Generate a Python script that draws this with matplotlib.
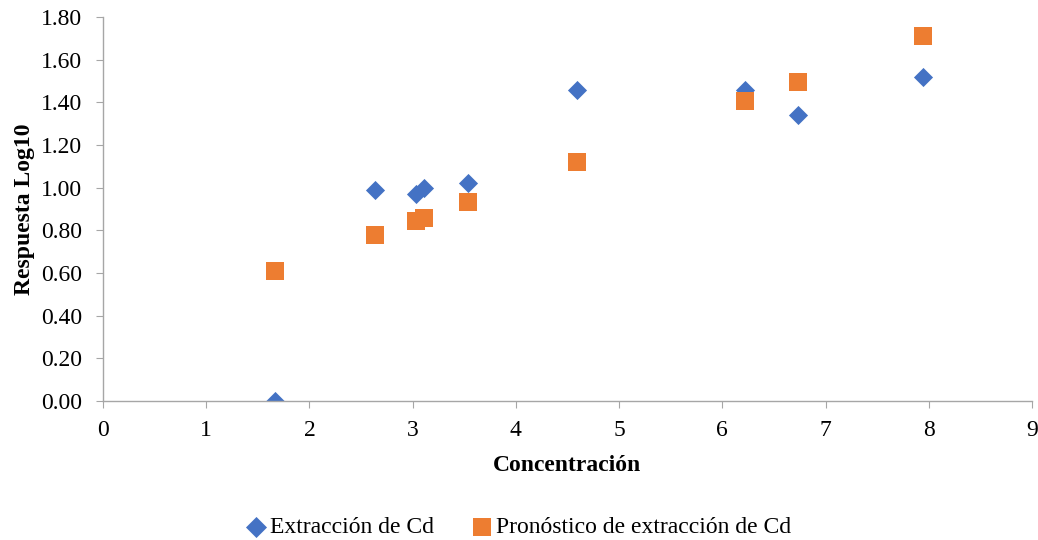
import matplotlib.pyplot as plt

plt.rcParams["font.family"] = ["Liberation Serif", "DejaVu Serif"]

concentracion = [1.67, 2.64, 3.03, 3.11, 3.54, 4.59, 6.22, 6.73, 7.94]
extraccion_cd = [0.00, 0.99, 0.97, 1.00, 1.02, 1.46, 1.46, 1.34, 1.52]
pronostico_cd = [0.61, 0.78, 0.845, 0.86, 0.935, 1.12, 1.405, 1.495, 1.71]

y_ticks = [0.0, 0.2, 0.4, 0.6, 0.8, 1.0, 1.2, 1.4, 1.6, 1.8]
x_ticks = list(range(0, 10))

BLUE = "#4472C4"
ORANGE = "#ED7D31"
GRAY = "#A6A6A6"


def main():
    fig = plt.figure(figsize=(10.38, 5.40), dpi=100)
    ax = fig.add_axes([0.0992, 0.2574, 0.895, 0.7111])

    ax.scatter(concentracion, extraccion_cd, marker="D", s=95, color=BLUE,
               label="Extracción de Cd", zorder=2, linewidths=0)
    ax.scatter(concentracion, pronostico_cd, marker="s", s=150, color=ORANGE,
               label="Pronóstico de extracción de Cd", zorder=3, linewidths=0)

    ax.set_xlim(0, 9)
    ax.set_ylim(0, 1.8)
    ax.set_xticks(x_ticks)
    ax.set_yticks(y_ticks)
    ax.set_yticklabels([f"{v:.2f}" for v in y_ticks])

    for side in ["top", "right"]:
        ax.spines[side].set_visible(False)
    for side in ["left", "bottom"]:
        ax.spines[side].set_color(GRAY)
        ax.spines[side].set_linewidth(1.0)
    ax.tick_params(axis="both", colors=GRAY, labelcolor="black",
                   labelsize=17, length=5, direction="out")
    ax.tick_params(axis="x", pad=9)
    ax.tick_params(axis="y", pad=10)

    ax.set_xlabel("Concentración", fontsize=17, fontweight="bold", labelpad=10)
    ax.set_ylabel("Respuesta Log10", fontsize=17, fontweight="bold", labelpad=4)

    fig.legend(loc="lower center", ncol=2, frameon=False, fontsize=17,
               bbox_to_anchor=(0.493, -0.036), handletextpad=-0.4,
               columnspacing=1.0, markerscale=1.1)

    fig.savefig("out.png", dpi=100, facecolor="white")
    plt.close(fig)


if __name__ == "__main__":
    main()
